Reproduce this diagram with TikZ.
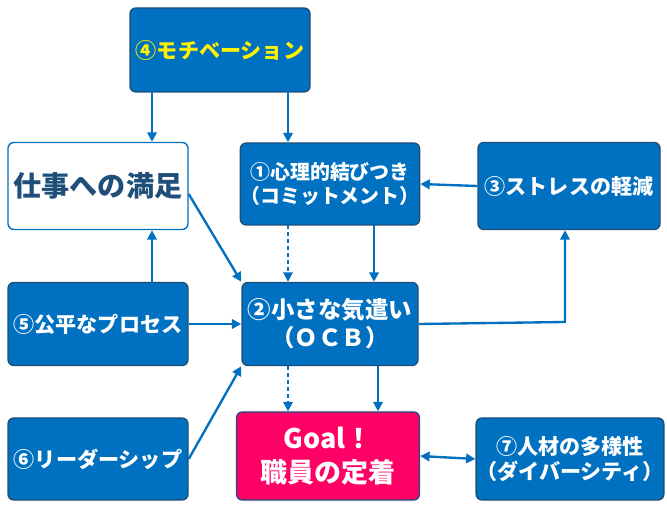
\documentclass[tikz,border=0pt]{standalone}
\usepackage{fontspec}
\newfontfamily\jp[BoldFont={Noto Sans CJK JP Black}]{Noto Sans CJK JP}
\usetikzlibrary{arrows.meta}
\definecolor{boxblue}{HTML}{0070C0}
\definecolor{edgeblue}{HTML}{1F4E79}
\definecolor{goalpink}{HTML}{FF0066}
\begin{document}
\begin{tikzpicture}[x=0.03cm,y=-0.03cm,
  box/.style={draw=edgeblue, line width=1.2pt, rounded corners=5pt, fill=boxblue, text=white, align=center, font=\jp\bfseries\fontsize{17}{21}\selectfont, inner sep=0pt},
  arr/.style={-{Triangle[length=8pt,width=8pt]}, draw=boxblue, line width=2pt}]
\useasboundingbox (0,0) rectangle (667,514);
\node[box, minimum width=180*0.03cm, minimum height=84*0.03cm, text=yellow, font=\jp\bfseries\fontsize{18}{22}\selectfont] (motiv) at (220,50) {④モチベーション};
\node[box, fill=white, draw=boxblue, text=edgeblue, minimum width=180*0.03cm, minimum height=87*0.03cm, font=\jp\bfseries\fontsize{24}{26}\selectfont] (satis) at (98,186) {仕事への満足};
\node[box, minimum width=176*0.03cm, minimum height=82*0.03cm] (commit) at (330,184) {①心理的結びつき\\（コミットメント）};
\node[box, minimum width=182*0.03cm, minimum height=87*0.03cm, font=\jp\bfseries\fontsize{18}{22}\selectfont] (stress) at (569,186) {③ストレスの軽減};
\node[box, minimum width=180*0.03cm, minimum height=83*0.03cm, font=\jp\bfseries\fontsize{18}{22}\selectfont] (fair) at (98,324) {⑤公平なプロセス};
\node[box, minimum width=176*0.03cm, minimum height=83*0.03cm, font=\jp\bfseries\fontsize{20}{24}\selectfont] (ocb) at (330,324) {②小さな気遣い\\（ＯＣＢ）};
\node[box, minimum width=180*0.03cm, minimum height=82*0.03cm, font=\jp\bfseries\fontsize{18}{22}\selectfont] (leader) at (98,459) {⑥リーダーシップ};
\node[box, fill=goalpink, minimum width=183*0.03cm, minimum height=88*0.03cm, font=\jp\bfseries\fontsize{23}{29}\selectfont] (goal) at (328,456) {Goal！\\職員の定着};
\node[box, minimum width=180*0.03cm, minimum height=82*0.03cm, font=\jp\bfseries\fontsize{18}{22}\selectfont] (diverse) at (570,459) {⑦人材の多様性\\（ダイバーシティ）};
% connectors
\draw[arr] (152,92) coordinate (m1) -- (m1 |- satis.north);
\draw[arr] (288,92) coordinate (m2) -- (m2 |- commit.north);
\draw[arr] (stress.west) -- (commit.east);
\draw[arr] (satis.east) ++(0,8) -- (ocb.north west);
\draw[arr] (374,225) coordinate (c1) -- (c1 |- ocb.north);
\draw[arr, dashed, line width=1.5pt] (288,225) coordinate (c2) -- (c2 |- ocb.north);
\draw[arr, dashed, line width=1.5pt] (288,366) coordinate (c3) -- (c3 |- goal.north);
\draw[arr] (152,283) coordinate (f1) -- (f1 |- satis.south);
\draw[arr] (fair.east) -- (ocb.west);
\draw[arr] (ocb.east) -- (565,322) coordinate (o1) -- (o1 |- stress.south);
\draw[arr] (leader.east) -- (ocb.south west);
\draw[arr] (378,366) coordinate (o2) -- (o2 |- goal.north);
\draw[arr, {Triangle[length=8pt,width=8pt]}-{Triangle[length=8pt,width=8pt]}] (goal.east) -- (diverse.west);
\end{tikzpicture}
\end{document}
